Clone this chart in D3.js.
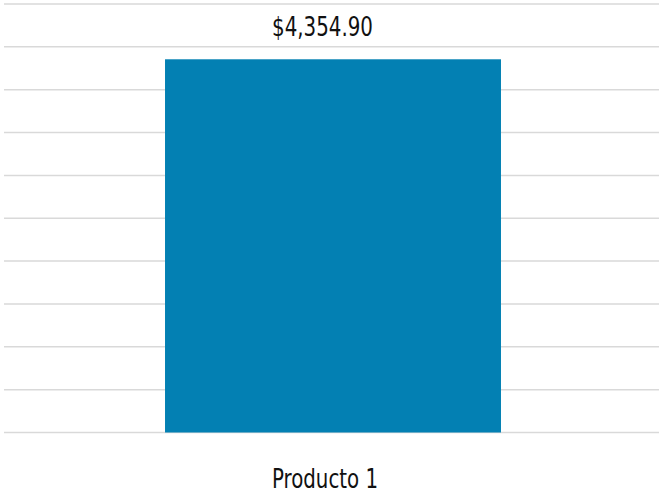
<!DOCTYPE html>
<html><head><meta charset="utf-8">
<script src="https://cdn.jsdelivr.net/npm/d3@7"></script>
<style>
html,body{margin:0;padding:0;background:#fff;}
svg{display:block;}
text{font-family:"DejaVu Sans Condensed","Liberation Sans Narrow",sans-serif;}
</style></head>
<body><svg id="c" width="659" height="493"></svg>
<script>
const categories = ["Producto 1"];
const values = [4354.90];
const yTicks = [0,500,1000,1500,2000,2500,3000,3500,4000,4500,5000];

const svg = d3.select("#c");
const x = d3.scaleBand().domain(categories).range([4, 662]).paddingInner(0.324).paddingOuter(0.324);
const y = d3.scaleLinear().domain([0, 5000]).range([432.5, 4]);

svg.append("g").selectAll("line").data(yTicks).join("line")
  .attr("x1", 4).attr("x2", 659)
  .attr("y1", d => y(d)).attr("y2", d => y(d))
  .attr("stroke", "#d9d9d9").attr("stroke-width", 1.5);

svg.append("g").selectAll("rect").data(values).join("rect")
  .attr("x", (d,i) => x(categories[i]))
  .attr("width", x.bandwidth())
  .attr("y", d => y(d))
  .attr("height", d => y(0) - y(d))
  .attr("fill", "#0380b3");

const fmt = d3.format("$,.2f");
svg.append("g").selectAll("text").data(values).join("text")
  .attr("x", (d,i) => x(categories[i]) + x.bandwidth()/2 - 10.5)
  .attr("y", d => y(d) - 23.5)
  .attr("text-anchor", "middle")
  .attr("font-size", 26)
  .attr("textLength", 101)
  .attr("lengthAdjust", "spacingAndGlyphs")
  .attr("fill", "#111")
  .text(d => fmt(d));

svg.append("g").selectAll("text").data(categories).join("text")
  .attr("x", d => x(d) + x.bandwidth()/2 - 8)
  .attr("y", 488)
  .attr("text-anchor", "middle")
  .attr("font-size", 27)
  .attr("textLength", 106)
  .attr("lengthAdjust", "spacingAndGlyphs")
  .attr("fill", "#111")
  .text(d => d);
</script></body></html>
